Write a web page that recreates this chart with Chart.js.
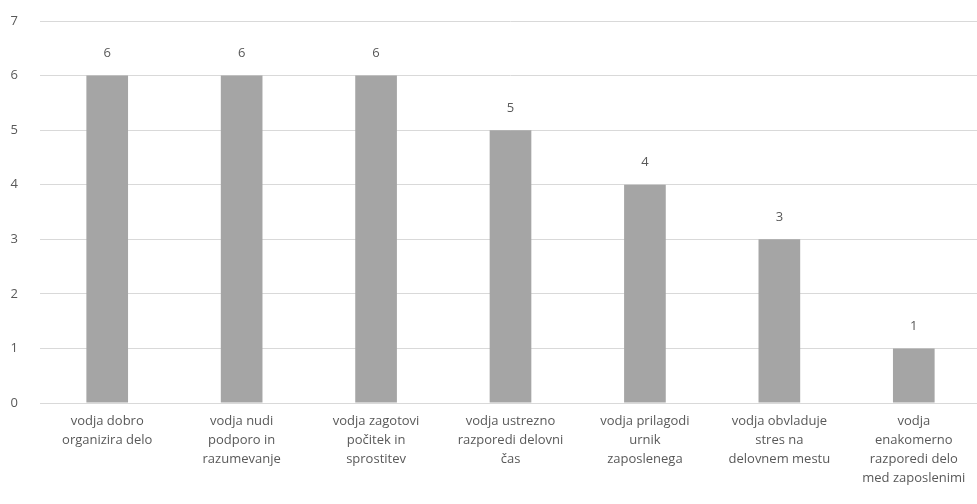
<!DOCTYPE html>
<html>
<head>
<meta charset="utf-8">
<script src="https://cdn.jsdelivr.net/npm/chart.js@4"></script>
<style>
    body { margin: 0; background: #fff; overflow: hidden; }
    #wrap { width: 977px; height: 504px; overflow: hidden; }
</style>
</head>
<body>
<div id="wrap"><canvas id="chart" width="981" height="504"></canvas></div>
<script>
const categories = [
    ["vodja dobro", "organizira delo"],
    ["vodja nudi", "podporo in", "razumevanje"],
    ["vodja zagotovi", "počitek in", "sprostitev"],
    ["vodja ustrezno", "razporedi delovni", "čas"],
    ["vodja prilagodi", "urnik", "zaposlenega"],
    ["vodja obvladuje", "stres na", "delovnem mestu"],
    ["vodja", "enakomerno", "razporedi delo", "med zaposlenimi"]
];
const values = [6, 6, 6, 5, 4, 3, 1];
const yTicks = [0, 1, 2, 3, 4, 5, 6, 7];

const textColor = "#595959";
const fontFamily = "'Open Sans', 'DejaVu Sans', sans-serif";

// draws the value above each bar
const barLabels = {
    id: "barLabels",
    afterDatasetsDraw(chart) {
        const ctx = chart.ctx;
        const meta = chart.getDatasetMeta(0);
        ctx.save();
        ctx.fillStyle = textColor;
        ctx.font = "13px " + fontFamily;
        ctx.textAlign = "center";
        ctx.textBaseline = "middle";
        meta.data.forEach((bar, i) => {
            ctx.fillText(values[i], bar.x, bar.y - 22);
        });
        ctx.restore();
    }
};

new Chart(document.getElementById("chart"), {
    type: "bar",
    data: {
        labels: categories,
        datasets: [{
            data: values,
            backgroundColor: "#a5a5a5",
            barPercentage: 0.31,
            categoryPercentage: 1
        }]
    },
    options: {
        responsive: false,
        animation: false,
        layout: { padding: { top: 21, right: 0 } },
        plugins: {
            legend: { display: false },
            tooltip: { enabled: false }
        },
        scales: {
            x: {
                grid: { display: false },
                border: { color: "#d9d9d9" },
                ticks: {
                    color: textColor,
                    font: { family: fontFamily, size: 13, lineHeight: 1.46 },
                    maxRotation: 0,
                    autoSkip: false,
                    padding: 1
                },
                afterFit(axis) { axis.height = 101; }
            },
            y: {
                min: 0,
                max: 7,
                afterBuildTicks(axis) { axis.ticks = yTicks.map(v => ({ value: v })); },
                grid: { color: "#d9d9d9", drawTicks: false },
                border: { display: false },
                ticks: {
                    color: textColor,
                    font: { family: fontFamily, size: 13 },
                    padding: 22
                },
                afterFit(axis) { axis.width = 40; axis.paddingTop = 0; }
            }
        }
    },
    plugins: [barLabels]
});
</script>
</body>
</html>
